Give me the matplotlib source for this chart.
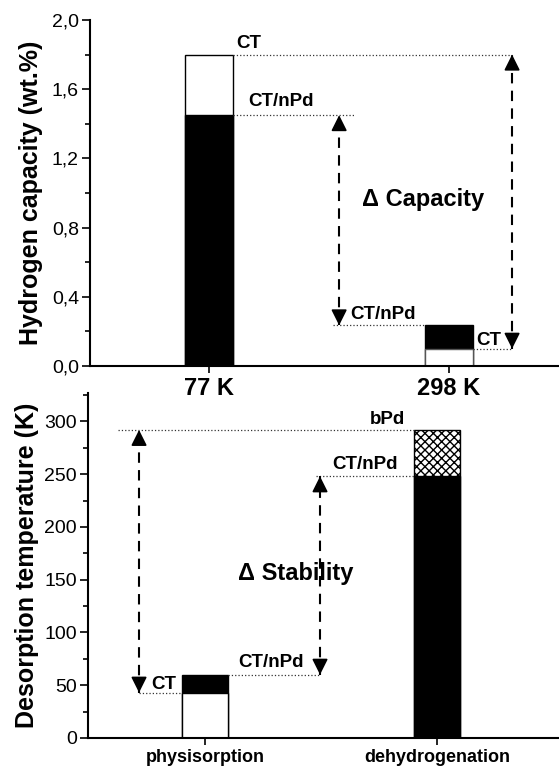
import matplotlib.pyplot as plt
from matplotlib.ticker import MultipleLocator, FuncFormatter

plt.rcParams['font.family'] = ['Liberation Sans', 'DejaVu Sans']

# Hydrogen capacity (wt.%) at two temperatures
temps = ['77 K', '298 K']
cap_ct = [1.80, 0.10]
cap_ctnpd = [1.45, 0.235]

# Desorption temperature (K)
modes = ['physisorption', 'dehydrogenation']
des_ct = [43, None]
des_ctnpd = [60, 248]
des_bpd = [None, 292]

fig = plt.figure(figsize=(5.59, 7.66), dpi=100)
ax1 = fig.add_axes([90 / 559, 400 / 766, 469 / 559, 346 / 766])
ax2 = fig.add_axes([88 / 559, 28 / 766, 471 / 559, 345 / 766])
ax2.patch.set_visible(False)

W = 0.2
bold = dict(fontweight='bold', fontsize=13.5)


def darrow(ax, x, y0, y1):
    # dashed shaft, solid triangular heads at both ends
    ax.plot([x, x], [y0, y1], color='black', lw=1.5, dashes=(5, 3.5))
    for tip, off in ((y1, -10), (y0, 10)):
        ax.annotate('', xy=(x, tip), xytext=(0, off), textcoords='offset points',
                    arrowprops=dict(arrowstyle='-|>,head_length=0.8,head_width=0.4',
                                    mutation_scale=12, color='black', lw=1.2,
                                    shrinkA=0, shrinkB=0))


def dots(ax, x0, x1, y):
    ax.plot([x0, x1], [y, y], ':', color='#333333', lw=0.9)


# ---- top panel ----
# 77 K: CT behind, CT/nPd in front; 298 K: CT/nPd behind, CT in front
ax1.bar(0, cap_ct[0], W, color='white', edgecolor='black', lw=1)
ax1.bar(0, cap_ctnpd[0], W, color='black', edgecolor='black', lw=1)
ax1.bar(1, cap_ctnpd[1], W, color='black', edgecolor='black', lw=1)
ax1.bar(1, cap_ct[1], W, color='white', edgecolor='#555555', lw=1)

dots(ax1, 0.1, 1.2625, cap_ct[0])
dots(ax1, 0.1, 0.61, cap_ctnpd[0])
dots(ax1, 0.515, 0.9, cap_ctnpd[1])
dots(ax1, 1.1, 1.2625, cap_ct[1])
darrow(ax1, 0.542, cap_ctnpd[1], cap_ctnpd[0])
darrow(ax1, 1.2625, cap_ct[1], cap_ct[0])

ax1.text(0.1125, 1.865, 'CT', va='center', ha='left', **bold)
ax1.text(0.1625, 1.53, 'CT/nPd', va='center', ha='left', **bold)
ax1.text(0.59, 0.295, 'CT/nPd', va='center', ha='left', **bold)
ax1.text(1.112, 0.145, 'CT', va='center', ha='left', **bold)
ax1.text(0.89, 0.96, '\u0394 Capacity', va='center', ha='center',
         fontweight='bold', fontsize=17)

ax1.set_xlim(-0.496, 1.458)
ax1.set_ylim(0, 2.0)
ax1.yaxis.set_major_locator(MultipleLocator(0.4))
ax1.yaxis.set_minor_locator(MultipleLocator(0.2))
ax1.yaxis.set_major_formatter(FuncFormatter(lambda v, p: f'{v:.1f}'.replace('.', ',')))
ax1.set_xticks([0, 1])
ax1.set_xticklabels(temps, fontweight='bold', fontsize=17)
ax1.set_ylabel('Hydrogen capacity (wt.%)', fontweight='bold', fontsize=18, labelpad=6)

# ---- bottom panel ----
ax2.bar(0, des_ctnpd[0], W, color='black', edgecolor='black', lw=1)
ax2.bar(0, des_ct[0], W, color='white', edgecolor='black', lw=1)
ax2.bar(1, des_bpd[1], W, color='white', edgecolor='black', lw=1,
        hatch='xxxx')
ax2.bar(1, des_ctnpd[1], W, color='black', edgecolor='black', lw=1)

dots(ax2, -0.375, 0.9, des_bpd[1])
dots(ax2, -0.284, -0.1, des_ct[0])
dots(ax2, 0.48, 0.9, des_ctnpd[1])
dots(ax2, 0.1, 0.496, des_ctnpd[0])
darrow(ax2, -0.284, des_ct[0], des_bpd[1])
darrow(ax2, 0.496, des_ctnpd[0], des_ctnpd[1])

ax2.text(0.862, 302, 'bPd', va='center', ha='right', **bold)
ax2.text(0.83, 259, 'CT/nPd', va='center', ha='right', **bold)
ax2.text(0.142, 72, 'CT/nPd', va='center', ha='left', **bold)
ax2.text(-0.125, 51, 'CT', va='center', ha='right', **bold)
ax2.text(0.142, 156, '\u0394 Stability', va='center', ha='left',
         fontweight='bold', fontsize=17)

ax2.set_xlim(-0.504, 1.526)
ax2.set_ylim(0, 327)
ax2.yaxis.set_major_locator(MultipleLocator(50))
ax2.yaxis.set_minor_locator(MultipleLocator(25))
ax2.set_xticks([0, 1])
ax2.set_xticklabels(modes, fontweight='bold', fontsize=13)
ax2.set_ylabel('Desorption temperature (K)', fontweight='bold', fontsize=18, labelpad=4)

for ax in (ax1, ax2):
    ax.spines['top'].set_visible(False)
    ax.spines['right'].set_visible(False)
    ax.spines['left'].set_linewidth(1.5)
    ax.spines['bottom'].set_linewidth(1.5)
    ax.tick_params(axis='y', which='major', direction='out', length=6, width=1.2,
                   labelsize=14, pad=2)
    ax.tick_params(axis='y', which='minor', direction='out', length=3.5, width=1.2)
    ax.tick_params(axis='x', direction='out', length=5, width=1.2, pad=3)

plt.savefig('out.png', dpi=100)
